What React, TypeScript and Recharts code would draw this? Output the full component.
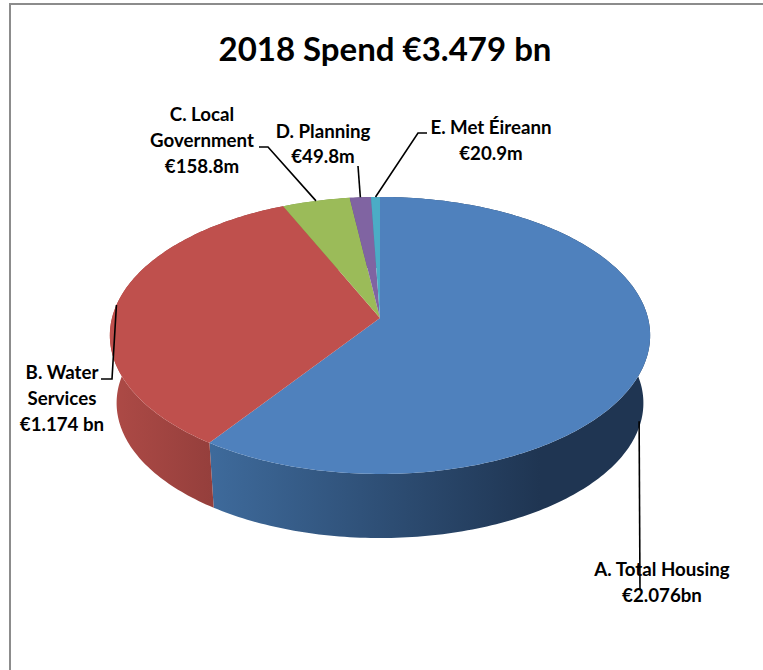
import { PieChart, Pie } from 'recharts';

const sliceNames = ['A. Total Housing', 'B. Water Services', 'C. Local Government', 'D. Planning', 'E. Met Éireann'];
const sliceValues = [2076, 1174, 158.8, 49.8, 20.9];
const sliceColors = ['#4f81bd', '#bf504d', '#9bbb59', '#8064a2', '#4bacc6'];
const wallColors = ['url(#wallBlue)', 'url(#wallRed)', '#7c9a45', '#654f82', '#3a8a9f'];
const labelLines = [
  ['A. Total Housing', '€2.076bn'],
  ['B. Water', 'Services', '€1.174 bn'],
  ['C. Local', 'Government', '€158.8m'],
  ['D. Planning', '€49.8m'],
  ['E. Met Éireann', '€20.9m'],
];

const data = sliceNames.map((name, i) => ({ name, value: sliceValues[i], fill: sliceColors[i], wall: wallColors[i] }));

// where the label text sits and how the leader bends
const labelSpots = [
  { x: 662, y: 576, gap: 26 },
  { x: 62, y: 379, gap: 26 },
  { x: 202, y: 121, gap: 26 },
  { x: 323, y: 138, gap: 25 },
  { x: 491, y: 134, gap: 26 },
];
const leaderBends = [
  [[640, 590]],
  [[112, 379], [101, 379]],
  [[268, 147], [259, 147]],
  [[358, 166]],
  [[418, 133], [427, 133]],
];

// the pie is tilted with some perspective, so the near side is bigger than the far side
const FLATTEN = 0.5086;
const PERSPECTIVE = 0.126;
const DEPTH = 68;
const BASE_SCALE = 0.975;

function project(cx: number, cy: number, r: number, deg: number, scale = 1, drop = 0) {
  const u = Math.cos((deg * Math.PI) / 180);
  const v = -Math.sin((deg * Math.PI) / 180);
  const w = 1 - PERSPECTIVE * v;
  return [cx + (scale * r * u) / w, cy + drop + (scale * r * FLATTEN * v) / w];
}

function arcPoints(cx: number, cy: number, r: number, start: number, end: number, scale = 1, drop = 0) {
  const steps = Math.max(2, Math.ceil(Math.abs(end - start)));
  const pts = [];
  for (let i = 0; i <= steps; i++) {
    pts.push(project(cx, cy, r, start + ((end - start) * i) / steps, scale, drop));
  }
  return pts;
}

const toPath = (pts: number[][]) => 'M' + pts.map((p) => `${p[0].toFixed(2)},${p[1].toFixed(2)}`).join('L') + 'Z';

function TopFace(props: any) {
  const { cx, cy, outerRadius, startAngle, endAngle, fill } = props;
  return <path d={toPath([[cx, cy], ...arcPoints(cx, cy, outerRadius, startAngle, endAngle)])} fill={fill} />;
}

function WallFace(props: any) {
  const { cx, cy, outerRadius, startAngle, endAngle, payload } = props;
  const top = arcPoints(cx, cy, outerRadius, startAngle, endAngle);
  const bottom = arcPoints(cx, cy, outerRadius, startAngle, endAngle, BASE_SCALE, DEPTH).reverse();
  return <path d={toPath([...top, ...bottom])} fill={payload.wall ?? props.wall} />;
}

function SliceLabel(props: any) {
  const { cx, cy, outerRadius, midAngle, index } = props;
  const spot = labelSpots[index];
  // first slice's leader lands on the lower rim, the others on the top rim
  const anchor = index === 0
    ? project(cx, cy, outerRadius, midAngle, BASE_SCALE, DEPTH - 6)
    : project(cx, cy, outerRadius, midAngle);
  const line = [anchor, ...leaderBends[index]].map((p) => p.join(',')).join(' ');
  return (
    <g>
      <polyline points={line} fill="none" stroke="#000" strokeWidth={1.6} />
      <text textAnchor="middle" fontFamily="Lato" fontWeight={700} fontSize={18.7} fill="#000">
        {labelLines[index].map((t, i) => (
          <tspan key={t} x={spot.x} y={spot.y + i * spot.gap}>{t}</tspan>
        ))}
      </text>
    </g>
  );
}

export default function App() {
  return (
    <div style={{ position: 'absolute', left: 0, top: 0, width: 763, height: 670, background: '#fff', overflow: 'hidden' }}>
      <div style={{ position: 'absolute', left: 9, top: 3, width: 800, height: 700, border: '2px solid #8c8c8c', boxSizing: 'border-box' }} />
      <div style={{ position: 'absolute', left: 0, top: 0 }}>
        <PieChart width={763} height={670} margin={{ top: 0, right: 0, bottom: 0, left: 0 }}>
          <defs>
            <linearGradient id="wallBlue" gradientUnits="userSpaceOnUse" x1={212} y1={0} x2={540} y2={0}>
              <stop offset="0%" stopColor="#3e6a9b" />
              <stop offset="100%" stopColor="#1f3552" />
            </linearGradient>
            <linearGradient id="wallRed" gradientUnits="userSpaceOnUse" x1={113} y1={0} x2={212} y2={0}>
              <stop offset="0%" stopColor="#ad4a46" />
              <stop offset="100%" stopColor="#953f3c" />
            </linearGradient>
          </defs>
          <text x={385} y={61} textAnchor="middle" fontFamily="Lato" fontWeight={700} fontSize={33} fill="#000">
            2018 Spend €3.479 bn
          </text>
          <Pie
            data={data}
            dataKey="value"
            nameKey="name"
            cx={380}
            cy={318}
            outerRadius={268}
            startAngle={90}
            endAngle={-270}
            stroke="none"
            shape={WallFace}
            isAnimationActive={false}
          />
          <Pie
            data={data}
            dataKey="value"
            nameKey="name"
            cx={380}
            cy={318}
            outerRadius={268}
            startAngle={90}
            endAngle={-270}
            stroke="none"
            shape={TopFace}
            label={SliceLabel}
            labelLine={false}
            isAnimationActive={false}
          />
        </PieChart>
      </div>
    </div>
  );
}
